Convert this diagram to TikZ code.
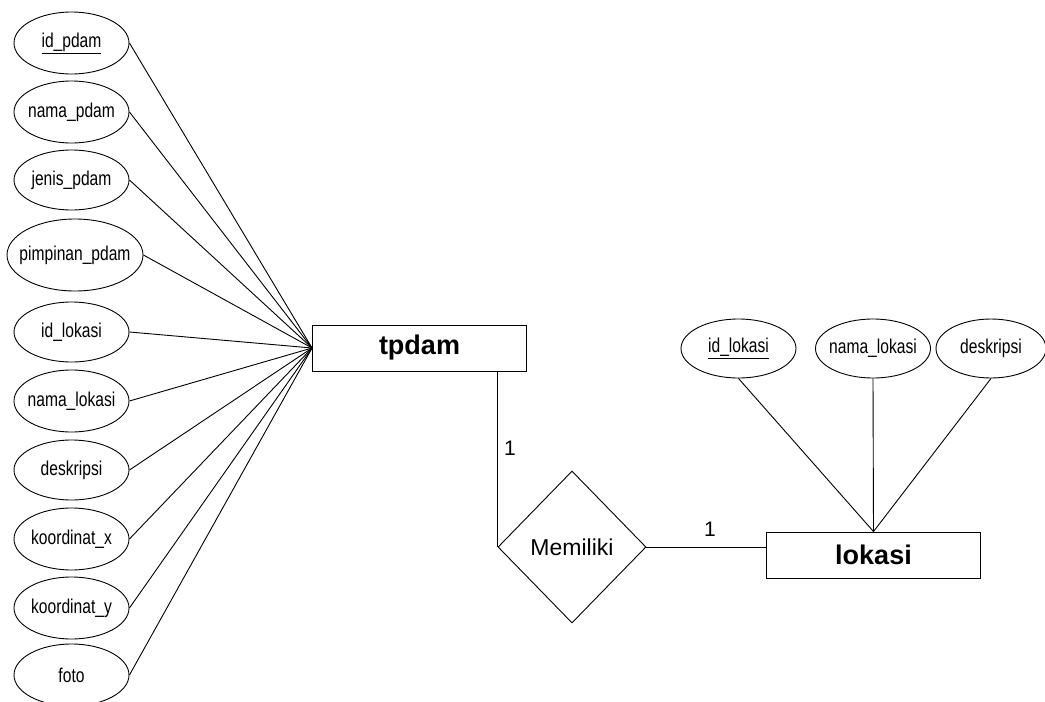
\documentclass[tikz,border=0pt]{standalone}
\usepackage{fontspec}
\setmainfont{Liberation Sans}
\newfontfamily\attrfont{Liberation Sans}[FakeStretch=0.78]
\usetikzlibrary{shapes.geometric}
\newcommand{\attrtext}[1]{\makebox[0pt][c]{#1}}
\begin{document}
\begin{tikzpicture}[x=1pt,y=-1pt,
  attr/.style={ellipse,draw,line width=0.9pt,minimum width=115pt,minimum height=62pt,inner sep=0pt,font=\attrfont\fontsize{20}{22}\selectfont},
  entity/.style={rectangle,draw,line width=0.9pt,minimum width=214pt,minimum height=46pt,inner sep=0pt,font=\bfseries\fontsize{27}{30}\selectfont},
  rel/.style={diamond,draw,line width=0.9pt,minimum width=148pt,minimum height=152pt,inner sep=0pt,font=\fontsize{23}{26}\selectfont},
  conn/.style={line width=0.9pt},
  card/.style={inner sep=0pt,font=\fontsize{21}{24}\selectfont}]
\fill[white] (0,0) rectangle (1045,702);
\useasboundingbox (0,0) rectangle (1045,702);

\node[entity] (tpdam) at (419.5,348) {tpdam};
\node[entity] (lokasi) at (873.5,555) {lokasi};
\node[rel] (memiliki) at (572,547) {Memiliki};

\node[attr] (a1) at (71.5,43) {\attrtext{\underline{id\_pdam}}};
\node[attr] (a2) at (71.5,112) {\attrtext{nama\_pdam}};
\node[attr,minimum height=60pt] (a3) at (71.5,180) {\attrtext{jenis\_pdam}};
\node[attr,minimum width=136pt,minimum height=72pt] (a4) at (75,255) {\attrtext{pimpinan\_pdam}};
\node[attr,minimum height=60pt] (a5) at (71.5,332) {\attrtext{id\_lokasi}};
\node[attr] (a6) at (71.5,401) {\attrtext{nama\_lokasi}};
\node[attr,minimum height=60pt] (a7) at (71.5,470) {\attrtext{deskripsi}};
\node[attr] (a8) at (71.5,539) {\attrtext{koordinat\_x}};
\node[attr] (a9) at (71.5,608) {\attrtext{koordinat\_y}};
\node[attr] (a10) at (71.5,675) {\attrtext{foto}};

\foreach \i in {1,...,10}{\draw[conn] (a\i.east) -- (tpdam.west);}

\node[attr,minimum height=59pt] (b1) at (738.5,348.5) {\attrtext{\underline{id\_lokasi}}};
\node[attr,minimum height=59pt] (b2) at (873,348.5) {\attrtext{nama\_lokasi}};
\node[attr,minimum height=59pt,minimum width=110pt] (b3) at (991,348.5) {\attrtext{deskripsi}};

\foreach \i in {1,2,3}{\draw[conn] (b\i.south) -- (lokasi.north);}

\draw[conn] (memiliki.west |- tpdam.south) -- (memiliki.west);
\draw[conn] (memiliki.east) -- (memiliki.east -| lokasi.west);

\node[card] (c1) at (510,448) {1};
\node[card] (c2) at (710,529) {1};
\end{tikzpicture}
\end{document}
